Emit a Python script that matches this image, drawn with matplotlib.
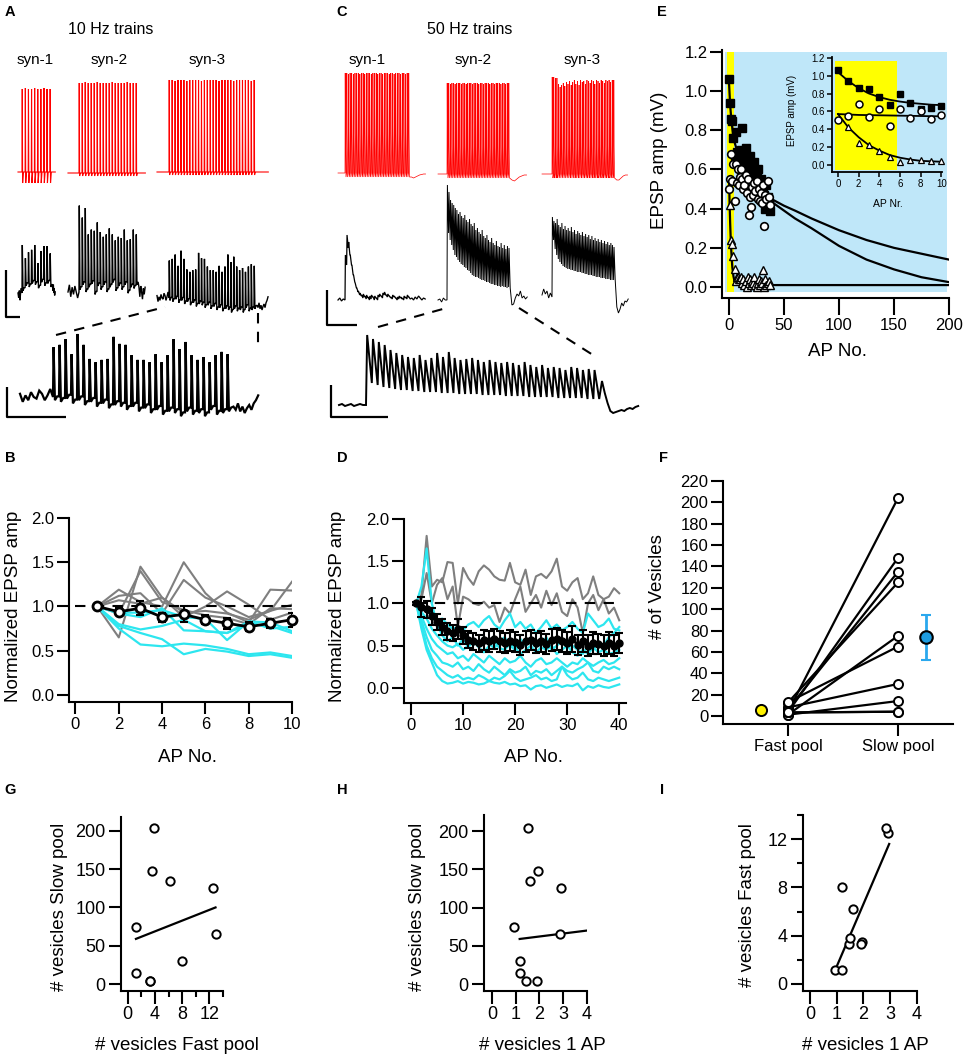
import numpy as np
import matplotlib
matplotlib.use('Agg')
import matplotlib.pyplot as plt
from matplotlib.patches import Rectangle

plt.rcParams['font.family'] = ['Liberation Sans', 'DejaVu Sans']
plt.rcParams['axes.linewidth'] = 1.5

# ---------------- data ----------------
# A: 10 Hz trains, AP peak heights (mV) of the presynaptic cell
a_red1 = [83, 84, 83, 83, 84, 83, 83, 84, 83, 83]
a_red2 = [90, 90, 91, 90, 90, 90, 91, 90, 90, 90, 90, 91, 90, 90, 90, 90, 91, 90, 90, 90]
a_red3 = [92, 92, 91, 92, 92, 92, 91, 92, 92, 92, 92, 91, 92, 92, 92,
          92, 92, 91, 92, 92, 92, 92, 91, 92, 92, 92, 92, 92, 91, 92]
# A: EPSP peaks / troughs (mV)
a1_pk = [2.0, 1.45, 1.7, 1.8, 2.0, 1.25, 1.75, 1.95, 1.95, 1.65]
a1_tr = [0.1, 0.3, 0.25, 0.4, 0.35, 0.2, 0.45, 0.3, 0.4, 0.25]
a1_pre = [0.0, -0.2, 0.1, -0.3, 0.05, 0.2]
a1_post = [0.3, 0.1, 0.35, 0.0, 0.2, -0.1, 0.05]
a2_pk = [3.6, 3.1, 3.5, 2.4, 2.6, 2.55, 2.9, 2.5, 2.3, 2.4,
         2.65, 2.4, 2.15, 2.3, 2.25, 2.6, 2.15, 2.2, 2.6, 2.4]
a2_tr = [0.1, 0.3, 0.0, 0.2, 0.35, -0.1, 0.25, 0.1, 0.3, 0.0,
         0.2, 0.4, 0.05, 0.25, 0.1, 0.3, -0.05, 0.2, 0.15, 0.3]
a2_pre = [0.0, 0.3, -0.2, 0.2, -0.1, 0.25, 0.0, -0.25]
a2_post = [0.2, -0.2, 0.25, 0.0, -0.3, 0.15, -0.1, 0.2]
a3_pk = [1.56, 1.63, 1.81, 1.34, 1.97, 1.63, 1.19, 1.09, 1.16, 1.19,
         1.88, 1.66, 1.63, 1.31, 1.16, 1.16, 1.09, 1.34, 1.09, 1.31,
         1.81, 1.5, 1.72, 1.31, 1.16, 1.25, 1.09, 1.31, 1.41, 1.34]
a3_tr = [-0.1, -0.15, -0.05, -0.2, -0.1, -0.25, -0.15, -0.3, -0.2, -0.35,
         -0.25, -0.3, -0.4, -0.3, -0.45, -0.35, -0.5, -0.4, -0.55, -0.45,
         -0.5, -0.6, -0.45, -0.55, -0.5, -0.6, -0.4, -0.55, -0.5, -0.45]
a3_pre = [0.1, -0.15, 0.05, -0.1, 0.15, 0.0, -0.05, 0.2, 0.1, -0.1, 0.05, 0.25]
a3_post = [-0.3, -0.4, -0.2, -0.45, -0.3, -0.5, -0.35, -0.25, -0.4, -0.2, -0.1, 0.05]

# C: 50 Hz trains, AP peak heights (mV)
c_red1 = [100, 100, 99, 100, 100, 99, 100, 100, 100, 99, 100, 100, 99, 100, 100, 100, 99, 100, 100, 100,
          99, 100, 100, 99, 100, 100, 100, 99, 100, 100, 99, 100, 100, 100, 99, 100, 100, 99, 100, 100]
c_red2 = [91, 91, 90, 91, 91, 90, 91, 91, 91, 90, 91, 91, 90, 91, 91, 91, 90, 91, 91, 91,
          90, 91, 91, 90, 91, 91, 91, 90, 91, 91, 90, 91, 91, 91, 90, 91, 91, 90, 91, 91]
c_red3 = [97, 97, 96, 96, 90, 87, 89, 91, 88, 92, 90, 93, 89, 92, 94, 90, 93, 89, 94, 92,
          93, 90, 94, 93, 91, 94, 93, 90, 94, 93, 91, 94, 93, 91, 94, 93, 94, 92, 94, 94]
c_red1_post = [-4, -5, -4, -3, -2, -1.5, -1, -1]
c_red2_post = [-6, -7, -5, -3, -2, -1, -1]
c_red3_post = [-6, -6, -4, -2, -1, -1]
# C: EPSP peaks / troughs (mV)
c1_pk = [2.25, 3.25, 2.9, 2.25, 1.75, 1.25, 0.85, 0.6, 0.45, 0.35, 0.25, 0.3, 0.2, 0.25, 0.15, 0.2, 0.25, 0.15, 0.2, 0.1,
         0.25, 0.3, 0.2, 0.35, 0.4, 0.25, 0.3, 0.2, 0.15, 0.25, 0.2, 0.1, 0.15, 0.2, 0.15, 0.1, 0.2, 0.15, 0.25, 0.15]
c1_tr = [1.75, 2.6, 2.25, 1.75, 1.25, 0.9, 0.6, 0.4, 0.25, 0.2, 0.1, 0.15, 0.05, 0.1, 0.0, 0.05, 0.15, 0.0, 0.1, 0.0,
         0.15, 0.2, 0.1, 0.25, 0.25, 0.15, 0.2, 0.1, 0.05, 0.15, 0.1, 0.0, 0.05, 0.1, 0.05, 0.0, 0.1, 0.05, 0.15, 0.05]
c1_pre = [0.0, 0.1, -0.05, 0.05]
c1_post = [0.1, 0.0, 0.15, 0.05, 0.2, 0.1, 0.0, 0.1, 0.05]
c2_pk = [5.75, 5.4, 5.0, 4.85, 4.75, 4.6, 4.5, 4.3, 4.4, 4.2, 4.1, 4.25, 4.0, 3.9, 4.05, 3.8, 3.7, 3.85, 3.5, 3.6,
         3.4, 3.3, 3.5, 3.2, 3.1, 3.25, 3.0, 2.9, 3.1, 2.85, 2.75, 2.95, 2.7, 2.65, 2.85, 2.6, 2.75, 2.55, 2.7, 2.6]
c2_tr = [3.35, 3.0, 2.75, 2.5, 2.25, 2.15, 2.0, 1.9, 1.8, 1.75, 1.65, 1.6, 1.5, 1.45, 1.35, 1.25, 1.2, 1.15, 1.15, 1.1,
         1.05, 1.0, 1.0, 0.95, 0.9, 0.9, 0.85, 0.8, 0.8, 0.75, 0.75, 0.7, 0.7, 0.65, 0.7, 0.65, 0.65, 0.6, 0.65, 0.6]
c2_pre = [0.0, 0.05, -0.1, 0.1, 0.0]
c2_post = [-0.25, -0.2, 0.1, 0.3, 0.2, 0.45, 0.1, 0.2, 0.05, 0.15]
c3_pk = [4.0, 3.8, 3.7, 3.9, 3.6, 3.5, 3.7, 3.4, 3.55, 3.35, 3.45, 3.3, 3.5, 3.25, 3.35, 3.15, 3.3, 3.2, 3.1, 3.25,
         3.05, 3.15, 3.0, 3.1, 2.9, 3.05, 2.85, 2.95, 2.8, 2.9, 2.75, 2.85, 2.7, 2.8, 2.65, 2.75, 2.6, 2.7, 2.6, 2.5]
c3_tr = [2.85, 2.4, 2.1, 1.9, 1.75, 1.65, 1.55, 1.5, 1.45, 1.4, 1.4, 1.35, 1.35, 1.3, 1.3, 1.25, 1.25, 1.25, 1.2, 1.2,
         1.15, 1.15, 1.1, 1.1, 1.1, 1.05, 1.05, 1.0, 1.0, 1.0, 0.95, 0.95, 0.95, 0.9, 0.9, 0.9, 0.85, 0.85, 0.85, 0.85]
c3_pre = [0.1, 0.4, 0.15, 0.3, -0.05, 0.2]
c3_post = [-0.5, -0.8, -0.6, -0.3, -0.45, -0.2, -0.25, -0.1]
cz_pk = [3.5, 3.3, 3.15, 3.0, 2.75, 2.6, 2.5, 2.4, 2.35, 2.5, 2.25, 2.35, 2.6, 2.4, 2.65, 2.35, 2.25, 2.3, 2.35, 2.25,
         2.15, 2.25, 2.15, 2.1, 2.15, 2.1, 2.0, 2.15, 2.0, 1.9, 2.0, 1.85, 1.9, 1.85, 1.75, 1.9, 1.85, 1.75, 1.8, 1.75]
cz_tr = [1.1, 1.0, 0.9, 0.85, 0.8, 0.75, 0.75, 0.7, 0.7, 0.65, 0.65, 0.65, 0.6, 0.6, 0.6, 0.55, 0.55, 0.55, 0.55, 0.5,
         0.5, 0.5, 0.5, 0.45, 0.45, 0.45, 0.45, 0.4, 0.4, 0.4, 0.4, 0.4, 0.35, 0.35, 0.35, 0.35, 0.35, 0.3, 0.3, 0.3]
cz_pre = [0.0, 0.05, -0.05, 0.0, 0.05, -0.05, 0.0, 0.05, 0.0]
cz_post = [1.2, 0.6, 0.1, -0.3, -0.4, -0.35, -0.3, -0.25, -0.3, -0.2, -0.15, -0.2, -0.1, -0.05]

# B: normalized EPSP amplitude, 10 Hz (AP 1..10)
b_ap = [1, 2, 3, 4, 5, 6, 7, 8, 9, 10]
b_gray = [
    [1.0, 0.65, 1.45, 1.10, 0.93, 0.95, 0.92, 0.85, 0.95, 1.02],
    [1.0, 1.19, 1.05, 1.00, 1.50, 1.15, 0.93, 0.82, 1.19, 1.18],
    [1.0, 1.12, 1.15, 0.92, 1.30, 1.10, 1.00, 0.88, 0.95, 1.28],
    [1.0, 1.07, 1.03, 1.10, 0.88, 1.00, 1.17, 1.02, 0.85, 0.93],
    [1.0, 0.92, 1.40, 1.05, 0.96, 0.90, 0.87, 0.80, 0.98, 0.97],
]
b_cyan = [
    [1.0, 0.93, 0.93, 0.96, 0.88, 0.86, 0.62, 0.83, 0.82, 0.72],
    [1.0, 0.80, 0.74, 0.78, 0.85, 0.72, 0.70, 0.80, 0.78, 0.70],
    [1.0, 0.78, 0.70, 0.63, 0.46, 0.52, 0.49, 0.44, 0.46, 0.42],
    [1.0, 0.75, 0.57, 0.55, 0.58, 0.56, 0.52, 0.46, 0.48, 0.44],
    [1.0, 0.92, 0.88, 0.98, 0.73, 0.72, 0.70, 0.83, 0.75, 0.77],
]
b_mean = [1.0, 0.94, 0.98, 0.88, 0.91, 0.85, 0.81, 0.77, 0.81, 0.85]
b_sem = [0.0, 0.04, 0.08, 0.05, 0.09, 0.05, 0.06, 0.05, 0.05, 0.08]

# D: normalized EPSP amplitude, 50 Hz (AP 1..40)
d_ap = list(range(1, 41))
d_gray = [
    [1.0, 1.1, 1.8, 1.2, 1.28, 1.25, 1.49, 1.48, 1.0, 1.42, 1.3, 1.22, 1.38, 1.45, 1.4, 1.32, 1.28, 1.27, 1.48, 1.25,
     1.22, 1.4, 1.1, 1.32, 1.35, 1.3, 1.38, 1.53, 1.2, 1.15, 1.25, 1.3, 1.05, 1.12, 1.32, 1.1, 1.05, 1.08, 1.18, 1.12],
    [1.0, 1.05, 1.36, 1.0, 1.22, 1.3, 1.05, 1.2, 0.72, 1.08, 1.05, 1.0, 0.98, 1.02, 0.95, 0.98, 0.78, 0.95, 0.88, 1.05,
     1.2, 0.9, 1.0, 1.1, 0.95, 1.15, 0.98, 1.12, 0.9, 0.85, 1.05, 0.95, 0.65, 1.0, 1.1, 0.92, 1.05, 0.88, 0.95, 0.8],
]
d_cyan = [
    [1.0, 1.2, 1.65, 1.0, 0.75, 0.62, 0.55, 0.6, 0.5, 0.58, 0.48, 0.55, 0.5, 0.6, 0.52, 0.47, 0.55, 0.6, 0.5, 0.45,
     0.58, 0.5, 0.55, 0.48, 0.52, 0.6, 0.45, 0.5, 0.55, 0.48, 0.5, 0.45, 0.4, 0.5, 0.45, 0.55, 0.5, 0.6, 0.65, 0.72],
    [1.0, 0.95, 0.9, 0.88, 0.8, 0.82, 0.75, 0.7, 0.72, 0.68, 0.75, 0.78, 0.72, 0.8, 0.85, 0.75, 0.7, 0.8, 0.88, 0.72,
     0.78, 0.7, 0.75, 0.65, 0.72, 0.8, 0.7, 0.75, 0.68, 0.72, 0.78, 0.7, 0.65, 0.88, 0.8, 0.72, 0.75, 0.82, 0.7, 0.68],
    [1.0, 0.9, 0.82, 0.7, 0.62, 0.55, 0.5, 0.48, 0.52, 0.45, 0.5, 0.55, 0.48, 0.42, 0.5, 0.55, 0.47, 0.45, 0.52, 0.48,
     0.4, 0.45, 0.5, 0.42, 0.48, 0.45, 0.5, 0.4, 0.45, 0.5, 0.42, 0.38, 0.45, 0.4, 0.48, 0.42, 0.45, 0.4, 0.42, 0.45],
    [1.0, 0.85, 0.7, 0.58, 0.5, 0.45, 0.4, 0.42, 0.35, 0.38, 0.32, 0.4, 0.35, 0.3, 0.38, 0.33, 0.28, 0.35, 0.3, 0.32,
     0.38, 0.3, 0.25, 0.32, 0.35, 0.28, 0.3, 0.35, 0.3, 0.25, 0.3, 0.28, 0.35, 0.3, 0.26, 0.3, 0.33, 0.28, 0.3, 0.35],
    [1.0, 0.8, 0.6, 0.45, 0.38, 0.3, 0.28, 0.25, 0.3, 0.22, 0.25, 0.2, 0.28, 0.22, 0.18, 0.25, 0.2, 0.15, 0.22, 0.18,
     0.2, 0.25, 0.15, 0.2, 0.18, 0.22, 0.15, 0.2, 0.25, 0.2, 0.18, 0.22, 0.25, 0.3, 0.2, 0.18, 0.25, 0.22, 0.25, 0.22],
    [1.0, 0.75, 0.5, 0.35, 0.25, 0.2, 0.15, 0.12, 0.15, 0.1, 0.12, 0.1, 0.15, 0.12, 0.08, 0.12, 0.1, 0.14, 0.2, 0.12,
     0.08, 0.1, 0.12, 0.15, 0.1, 0.12, 0.08, 0.1, 0.25, 0.15, 0.1, 0.12, 0.18, 0.1, 0.08, 0.12, 0.1, 0.08, 0.1, 0.12],
    [1.0, 0.7, 0.45, 0.3, 0.15, 0.08, 0.05, 0.06, 0.08, 0.05, 0.07, 0.06, 0.04, 0.05, 0.08, 0.06, 0.05, 0.07, 0.04, 0.05,
     0.02, 0.03, -0.02, 0.02, 0.03, 0.0, 0.02, 0.04, 0.01, 0.03, 0.02, 0.05, -0.03, 0.02, 0.0, 0.03, 0.01, 0.0, 0.02, 0.04],
]
d_mean = [1.0, 0.96, 0.93, 0.85, 0.78, 0.72, 0.67, 0.65, 0.70, 0.62, 0.57, 0.55, 0.53, 0.57, 0.55, 0.58, 0.55, 0.53, 0.56, 0.54,
          0.51, 0.55, 0.57, 0.53, 0.55, 0.52, 0.57, 0.58, 0.55, 0.53, 0.58, 0.51, 0.55, 0.50, 0.53, 0.52, 0.50, 0.53, 0.50, 0.53]
d_sem = [0.02, 0.12, 0.10, 0.10, 0.10, 0.10, 0.10, 0.10, 0.12, 0.10, 0.10, 0.10, 0.10, 0.12, 0.12, 0.12, 0.12, 0.12, 0.12, 0.12,
         0.12, 0.12, 0.12, 0.12, 0.12, 0.12, 0.13, 0.13, 0.13, 0.13, 0.15, 0.12, 0.13, 0.12, 0.13, 0.12, 0.12, 0.13, 0.12, 0.12]

# E: EPSP amplitude (mV) of three example synapses
e_sq = [1.06, 0.94, 0.86, 0.85, 0.76, 0.67, 0.79, 0.69, 0.63, 0.64, 0.66, 0.70, 0.81, 0.62, 0.68, 0.71, 0.64, 0.60, 0.66,
        0.67, 0.58, 0.62, 0.55, 0.64, 0.52, 0.58, 0.60, 0.52, 0.48, 0.55, 0.45, 0.50, 0.47, 0.40, 0.52, 0.46, 0.42, 0.39]
e_ci = [0.50, 0.55, 0.68, 0.54, 0.63, 0.44, 0.63, 0.53, 0.60, 0.52, 0.56, 0.60, 0.55, 0.50, 0.52, 0.57, 0.48, 0.55, 0.37,
        0.46, 0.41, 0.51, 0.47, 0.53, 0.49, 0.54, 0.45, 0.50, 0.44, 0.48, 0.43, 0.52, 0.31, 0.47, 0.45, 0.54, 0.46, 0.42]
e_tri = [0.42, 0.24, 0.22, 0.16, 0.09, 0.03, 0.05, 0.05, 0.04, 0.04, 0.05, 0.02, 0.04, 0.01, 0.03, 0.00, 0.05, 0.02, 0.04,
         0.01, 0.03, 0.02, 0.05, 0.01, 0.00, 0.02, 0.04, 0.01, 0.03, 0.02, 0.085, 0.00, 0.04, 0.01, 0.02, 0.03, 0.01]
fit_sq_x = [0, 1, 2, 3, 4, 5, 6, 8, 10, 13, 16, 20, 25, 30, 35, 40, 50, 60, 75, 100, 125, 150, 175, 200]
fit_sq_y = [1.04, 0.93, 0.86, 0.81, 0.77, 0.74, 0.72, 0.69, 0.66, 0.63, 0.60, 0.57, 0.53, 0.50, 0.47, 0.445,
            0.415, 0.39, 0.35, 0.29, 0.24, 0.20, 0.17, 0.14]
fit_ci_x = [0, 5, 10, 15, 20, 25, 30, 35, 40, 50, 60, 75, 100, 125, 150, 175, 200]
fit_ci_y = [0.56, 0.55, 0.54, 0.52, 0.50, 0.48, 0.46, 0.445, 0.43, 0.39, 0.35, 0.30, 0.21, 0.14, 0.09, 0.05, 0.025]
fit_tri_x = [0, 0.5, 1, 1.5, 2, 2.5, 3, 4, 5, 7, 10, 200]
fit_tri_y = [0.56, 0.43, 0.33, 0.25, 0.19, 0.14, 0.10, 0.055, 0.03, 0.015, 0.01, 0.01]
ins_x = [0, 1, 2, 3, 4, 5, 6, 7, 8, 9, 10]
ins_fit_sq = [1.04, 0.94, 0.86, 0.80, 0.76, 0.73, 0.71, 0.695, 0.685, 0.675, 0.67]
ins_fit_ci = [0.57, 0.565, 0.56, 0.558, 0.556, 0.554, 0.552, 0.55, 0.548, 0.546, 0.545]
ins_fit_tri = [0.57, 0.42, 0.31, 0.22, 0.16, 0.11, 0.08, 0.06, 0.045, 0.04, 0.035]

# F-I: vesicle pool estimates per synapse
fast_pool = [1.2, 1.2, 3.3, 3.5, 3.8, 6.2, 8.0, 12.5, 12.9, 3.3]
slow_pool = [75, 14, 4, 148, 204, 135, 30, 125, 65, 4]
ves_1ap = [0.95, 1.2, 1.45, 1.95, 1.5, 1.6, 1.2, 2.9, 2.85, 1.9]
fast_mean = 5.5
slow_mean, slow_err = 73.5, 21.5
g_fit_x, g_fit_y = [1.2, 12.9], [59, 100]
h_fit_x, h_fit_y = [1.17, 4.0], [59, 70]
i_fit_x, i_fit_y = [0.97, 2.96], [1.3, 11.6]

# ---------------- figure ----------------
W, H = 964, 1055
fig = plt.figure(figsize=(9.64, 10.55), dpi=100)

RED = '#FF0000'
GRAY = '#7F7F7F'
CYAN = '#2DE6EF'


def box(x1, y1, x2, y2):
    return [x1 / W, 1 - y2 / H, (x2 - x1) / W, (y2 - y1) / H]


def ptext(x, y, s, **kw):
    ha = kw.pop('ha', 'center')
    va = kw.pop('va', 'center')
    fig.text(x / W, 1 - y / H, s, ha=ha, va=va, **kw)


ov = fig.add_axes([0, 0, 1, 1])
ov.set_xlim(0, W)
ov.set_ylim(H, 0)
ov.set_axis_off()
ov.patch.set_alpha(0)


def spike_train(tops, under, rise, fall, back, shoulder=None):
    t, v = [], []
    for i, h in enumerate(tops):
        t += [i, i + rise]
        v += [0.0, h]
        if shoulder:
            t.append(i + shoulder[0])
            v.append(h * shoulder[1])
        t.append(i + fall)
        v.append(-under)
        if back:
            t.append(i + back)
            v.append(0.0)
    return t, v


def epsp10(peaks, troughs):
    t, v = [], []
    prev = 0.0
    for i, (p, q) in enumerate(zip(peaks, troughs)):
        t += [i, i + 0.1, i + 0.32, i + 0.7]
        v += [prev, p, q, q + 0.12]
        prev = q + 0.12
    return t, v


def epsp50(peaks, troughs, rise=0.25):
    t, v = [0.0], [0.0]
    for i, (p, q) in enumerate(zip(peaks, troughs)):
        t += [i + rise, i + 1]
        v += [p, q]
    return t, v


def place(tv, x0, dt, base, gain, pre_px, pre_w, post_px, post_w, **kw):
    t = np.asarray(tv[0], float)
    v = np.asarray(tv[1], float)
    xs = [np.linspace(x0 - pre_px, x0, len(pre_w), endpoint=False), x0 + t * dt]
    ys = [base - np.asarray(pre_w, float) * gain, base - v * gain]
    xe = x0 + t[-1] * dt
    xs.append(np.linspace(xe, xe + post_px, len(post_w) + 1)[1:])
    ys.append(base - np.asarray(post_w, float) * gain)
    ov.plot(np.concatenate(xs), np.concatenate(ys), solid_joinstyle='miter', **kw)


# A traces
place(spike_train(a_red1, 11, 0.08, 0.2, 0.45), 22, 3.1, 172, 1, 4, [0, 0], 4, [0, 0], color=RED, lw=0.8)
place(spike_train(a_red2, 3, 0.08, 0.2, 0.45), 79, 3.0, 173, 1, 11, [0, 0, 0], 8, [0, 0, 0], color=RED, lw=0.8)
place(spike_train(a_red3, 3, 0.08, 0.2, 0.45), 169, 2.93, 172, 1, 12, [0, 0, 0], 13, [0, 0, 0], color=RED, lw=0.8)
place(epsp10(a1_pk, a1_tr), 22, 3.1, 293, 24, 4, a1_pre, 3, a1_post, color='k', lw=1.0)
place(epsp10(a2_pk, a2_tr), 79, 3.0, 292, 24, 11, a2_pre, 7, a2_post, color='k', lw=1.0)
place(epsp10(a3_pk, a3_tr), 169, 2.93, 298, 24, 12, a3_pre, 12, a3_post, color='k', lw=1.0)
place(epsp10(a3_pk, a3_tr), 53, 6.0, 397, 32, 33, a3_pre, 27, a3_post, color='k', lw=1.6)

# C traces
place(spike_train(c_red1, 4, 0.12, 0.6, None, (0.3, 0.4)), 345, 1.63, 173, 1, 7, [0, 0, 0], 16, c_red1_post,
      color=RED, lw=0.5)
place(spike_train(c_red2, 4, 0.12, 0.6, None, (0.3, 0.3)), 447, 1.58, 174, 1, 9, [0, 0, 0], 17, c_red2_post,
      color=RED, lw=0.5)
place(spike_train(c_red3, 4, 0.12, 0.6, None, (0.3, 0.3)), 552, 1.58, 174, 1, 10, [0, 0, 0], 13, c_red3_post,
      color=RED, lw=0.5)
place(epsp50(c1_pk, c1_tr), 345, 1.63, 300, 20, 7, c1_pre, 15, c1_post, color='k', lw=0.9)
place(epsp50(c2_pk, c2_tr), 447, 1.58, 300, 20, 9, c2_pre, 17, c2_post, color='k', lw=0.7)
place(epsp50(c3_pk, c3_tr), 552, 1.58, 297, 20, 10, c3_pre, 13, c3_post, color='k', lw=0.7)
place(epsp50(cz_pk, cz_tr, rise=0.2), 366, 5.83, 405, 20, 27, cz_pre, 39, cz_post, color='k', lw=1.4)

# scale bars and zoom connectors
for xs, ys in [([6, 6, 20], [270, 317, 317]), ([7, 7, 66], [387, 417, 417]),
               ([327, 327, 357], [290, 325, 325]), ([331, 331, 388], [385, 417, 417])]:
    ov.plot(xs, ys, color='k', lw=1.6, solid_capstyle='butt')
for xs, ys in [([56, 165], [335, 307]), ([258, 258], [313, 348]),
               ([378, 450], [327, 307]), ([519, 593], [308, 355])]:
    ov.plot(xs, ys, color='k', lw=1.5, dashes=(5, 4))

# texts of the trace panels
ptext(111, 30, '10 Hz trains', fontsize=11.5)
ptext(470, 30, '50 Hz trains', fontsize=11.5)
for x, s in [(35, 'syn-1'), (109, 'syn-2'), (207, 'syn-3'), (367, 'syn-1'), (473, 'syn-2'), (582, 'syn-3')]:
    ptext(x, 60, s, fontsize=11)
for x, y, s in [(10, 12, 'A'), (342, 12, 'C'), (662, 12, 'E'), (10, 458, 'B'), (342, 458, 'D'),
                (663, 458, 'F'), (10, 790, 'G'), (342, 790, 'H'), (662, 790, 'I')]:
    ptext(x, y, s, fontsize=10.5, fontweight='bold')


def style(ax, size=12, length=8.5):
    for s in ['top', 'right']:
        ax.spines[s].set_visible(False)
    ax.tick_params(direction='out', length=length, width=1.5, labelsize=size, pad=2)


# ---------- B ----------
axb = fig.add_axes(box(69, 518, 292, 702))
style(axb)
for row in b_gray:
    axb.plot(b_ap, row, color=GRAY, lw=1.5, zorder=1)
for row in b_cyan:
    axb.plot(b_ap, row, color=CYAN, lw=1.6, zorder=1)
axb.plot([0, 10], [1, 1], color='k', lw=1.5, dashes=(5, 4), zorder=2)
axb.errorbar(b_ap, b_mean, yerr=b_sem, fmt='none', ecolor='k', elinewidth=1.5, capsize=3, capthick=1.5, zorder=3)
axb.plot(b_ap, b_mean, color='k', lw=2, marker='o', ms=6.5, mfc='white', mec='k', mew=2, zorder=4, clip_on=False)
axb.set_xlim(-0.3, 10)
axb.set_ylim(-0.08, 2.0)
axb.set_xticks([0, 2, 4, 6, 8, 10])
axb.set_yticks([0, 0.5, 1.0, 1.5, 2.0])
axb.set_yticklabels(['0.0', '0.5', '1.0', '1.5', '2.0'])
ptext(14, 606, 'Normalized EPSP amp', fontsize=13.5, rotation=90)
ptext(187, 757, 'AP No.', fontsize=13.5)

# ---------- D ----------
axd = fig.add_axes(box(404, 519, 626, 703))
style(axd)
for row in d_gray:
    axd.plot(d_ap, row, color=GRAY, lw=1.5, zorder=1)
for row in d_cyan:
    axd.plot(d_ap, row, color=CYAN, lw=1.6, zorder=1)
axd.plot([1, 40], [1, 1], color='k', lw=1.5, dashes=(5, 4), zorder=2)
axd.errorbar(d_ap, d_mean, yerr=d_sem, fmt='none', ecolor='k', elinewidth=1.5, capsize=3, capthick=1.5, zorder=3)
axd.plot(d_ap, d_mean, color='k', lw=2, marker='o', ms=5, mfc='k', mec='k', zorder=4, clip_on=False)
axd.set_xlim(-1.35, 41.3)
axd.set_ylim(-0.18, 2.0)
axd.set_xticks([0, 10, 20, 30, 40])
axd.set_yticks([0, 0.5, 1.0, 1.5, 2.0])
axd.set_yticklabels(['0.0', '0.5', '1.0', '1.5', '2.0'])
ptext(338, 606, 'Normalized EPSP amp', fontsize=13.5, rotation=90)
ptext(533, 757, 'AP No.', fontsize=13.5)

# ---------- E ----------
axe = fig.add_axes(box(722, 50, 949, 298))
style(axe)
axe.tick_params(axis='x', length=12.5)
axe.add_patch(Rectangle((-3.5, -0.025), 201.5, 1.225, facecolor='#BFE7F9', edgecolor='none', zorder=0))
axe.add_patch(Rectangle((-1.8, -0.025), 6.3, 1.225, facecolor='#FFFF00', edgecolor='none', zorder=0.5))
axe.plot(fit_sq_x, fit_sq_y, color='k', lw=1.6, zorder=2)
axe.plot(fit_ci_x, fit_ci_y, color='k', lw=1.6, zorder=2)
axe.plot(fit_tri_x, fit_tri_y, color='k', lw=1.6, zorder=2)
axe.plot(range(len(e_sq)), e_sq, 's', ms=5.2, mfc='k', mec='k', zorder=3)
axe.plot(range(len(e_ci)), e_ci, 'o', ms=5.5, mfc='white', mec='k', mew=1.2, zorder=3)
axe.plot(range(1, len(e_tri) + 1), e_tri, '^', ms=5.5, mfc='white', mec='k', mew=1.0, zorder=3)
axe.set_xlim(-6.4, 200)
axe.set_ylim(-0.056, 1.21)
axe.set_xticks([0, 50, 100, 150, 200])
axe.set_yticks([0, 0.2, 0.4, 0.6, 0.8, 1.0, 1.2])
axe.set_yticklabels(['0.0', '0.2', '0.4', '0.6', '0.8', '1.0', '1.2'])
ptext(660, 160, 'EPSP amp (mV)', fontsize=13.5, rotation=90)
ptext(838, 352, 'AP No.', fontsize=13.5)

# inset of E
axi = fig.add_axes(box(832, 57, 942, 172))
axi.patch.set_alpha(0)
for s in ['top', 'right']:
    axi.spines[s].set_visible(False)
for s in ['left', 'bottom']:
    axi.spines[s].set_linewidth(1.3)
axi.tick_params(direction='out', length=3.5, width=1.1, labelsize=7, pad=1.5)
axi.add_patch(Rectangle((-0.3, -0.06), 6.0, 1.23, facecolor='#FFFF00', edgecolor='none', zorder=0))
axi.plot(ins_x, ins_fit_sq, color='k', lw=1.3, zorder=2)
axi.plot(ins_x, ins_fit_ci, color='k', lw=1.3, zorder=2)
axi.plot(ins_x, ins_fit_tri, color='k', lw=1.3, zorder=2)
axi.plot(ins_x, e_sq[:11], 's', ms=4.5, mfc='k', mec='k', zorder=3, clip_on=False)
axi.plot(ins_x, e_ci[:11], 'o', ms=5, mfc='white', mec='k', mew=1.1, zorder=3, clip_on=False)
axi.plot(ins_x[1:], e_tri[:10], '^', ms=5, mfc='white', mec='k', mew=0.9, zorder=3, clip_on=False)
axi.set_xlim(-0.58, 10.05)
axi.set_ylim(-0.08, 1.21)
axi.set_xticks([0, 2, 4, 6, 8, 10])
axi.set_yticks([0, 0.2, 0.4, 0.6, 0.8, 1.0, 1.2])
axi.set_yticklabels(['0.0', '0.2', '0.4', '0.6', '0.8', '1.0', '1.2'])
ptext(792, 110, 'EPSP amp (mV)', fontsize=7, rotation=90)
ptext(888, 204, 'AP Nr.', fontsize=7.5)

# ---------- F ----------
axf = fig.add_axes(box(723, 481, 953, 724))
style(axf)
for f, s in zip(fast_pool, slow_pool):
    axf.plot([0, 1], [f, s], color='k', lw=1.6, zorder=2)
axf.plot([0] * len(fast_pool), fast_pool, 'o', ms=6.5, mfc='white', mec='k', mew=1.4, zorder=3)
axf.plot([1] * len(slow_pool), slow_pool, 'o', ms=6.5, mfc='white', mec='k', mew=1.4, zorder=3)
axf.plot([-0.245], [fast_mean], 'o', ms=8, mfc='#FFF200', mec='k', mew=1.4, zorder=3)
axf.errorbar([1.255], [slow_mean], yerr=[slow_err], fmt='none', ecolor='#2AA8EE', elinewidth=2, capsize=3.5,
             capthick=1.5, zorder=2)
axf.plot([1.255], [slow_mean], 'o', ms=9, mfc='#1E9CE0', mec='k', mew=1.5, zorder=3)
axf.set_xlim(-0.59, 1.5)
axf.set_ylim(-7.5, 220)
axf.set_xticks([0, 1])
axf.set_xticklabels(['Fast pool', 'Slow pool'])
axf.set_yticks(range(0, 221, 20))
ptext(658, 587, '# of Vesicles', fontsize=13.5, rotation=90)


# ---------- G, H, I ----------
def scatter_panel(rect, x, y, fx, fy, xlim, ylim, xticks, yticks, xminor=None, yminor=None):
    ax = fig.add_axes(rect)
    style(ax, size=13, length=9)
    ax.plot(x, y, 'o', ms=6, mfc='white', mec='k', mew=1.4, zorder=3)
    ax.plot(fx, fy, color='k', lw=1.6, zorder=2)
    ax.set_xlim(*xlim)
    ax.set_ylim(*ylim)
    ax.set_xticks(xticks)
    ax.set_yticks(yticks)
    if xminor:
        ax.set_xticks(xminor, minor=True)
    if yminor:
        ax.set_yticks(yminor, minor=True)
    ax.tick_params(which='minor', direction='out', length=4.5, width=1.5)
    return ax


scatter_panel(box(121, 817, 223, 991), fast_pool, slow_pool, g_fit_x, g_fit_y, (-1.0, 14), (-9, 218),
              [0, 4, 8, 12], [0, 50, 100, 150, 200], xminor=[2, 6, 10, 14])
ptext(60, 907, '# vesicles Slow pool', fontsize=13.5, rotation=90)
ptext(177, 1045, '# vesicles Fast pool', fontsize=13.5)

scatter_panel(box(484, 815, 587, 991), ves_1ap, slow_pool, h_fit_x, h_fit_y, (-0.33, 4), (-9, 221),
              [0, 1, 2, 3, 4], [0, 50, 100, 150, 200])
ptext(418, 907, '# vesicles Slow pool', fontsize=13.5, rotation=90)
ptext(542, 1045, '# vesicles 1 AP', fontsize=13.5)

scatter_panel(box(803, 815, 917, 991), ves_1ap, fast_pool, i_fit_x, i_fit_y, (-0.26, 4), (-0.58, 14),
              [0, 1, 2, 3, 4], [0, 4, 8, 12], yminor=[2, 6, 10, 14])
ptext(747, 905, '# vesicles Fast pool', fontsize=13.5, rotation=90)
ptext(865, 1045, '# vesicles 1 AP', fontsize=13.5)

fig.savefig('out.png', dpi=100)
